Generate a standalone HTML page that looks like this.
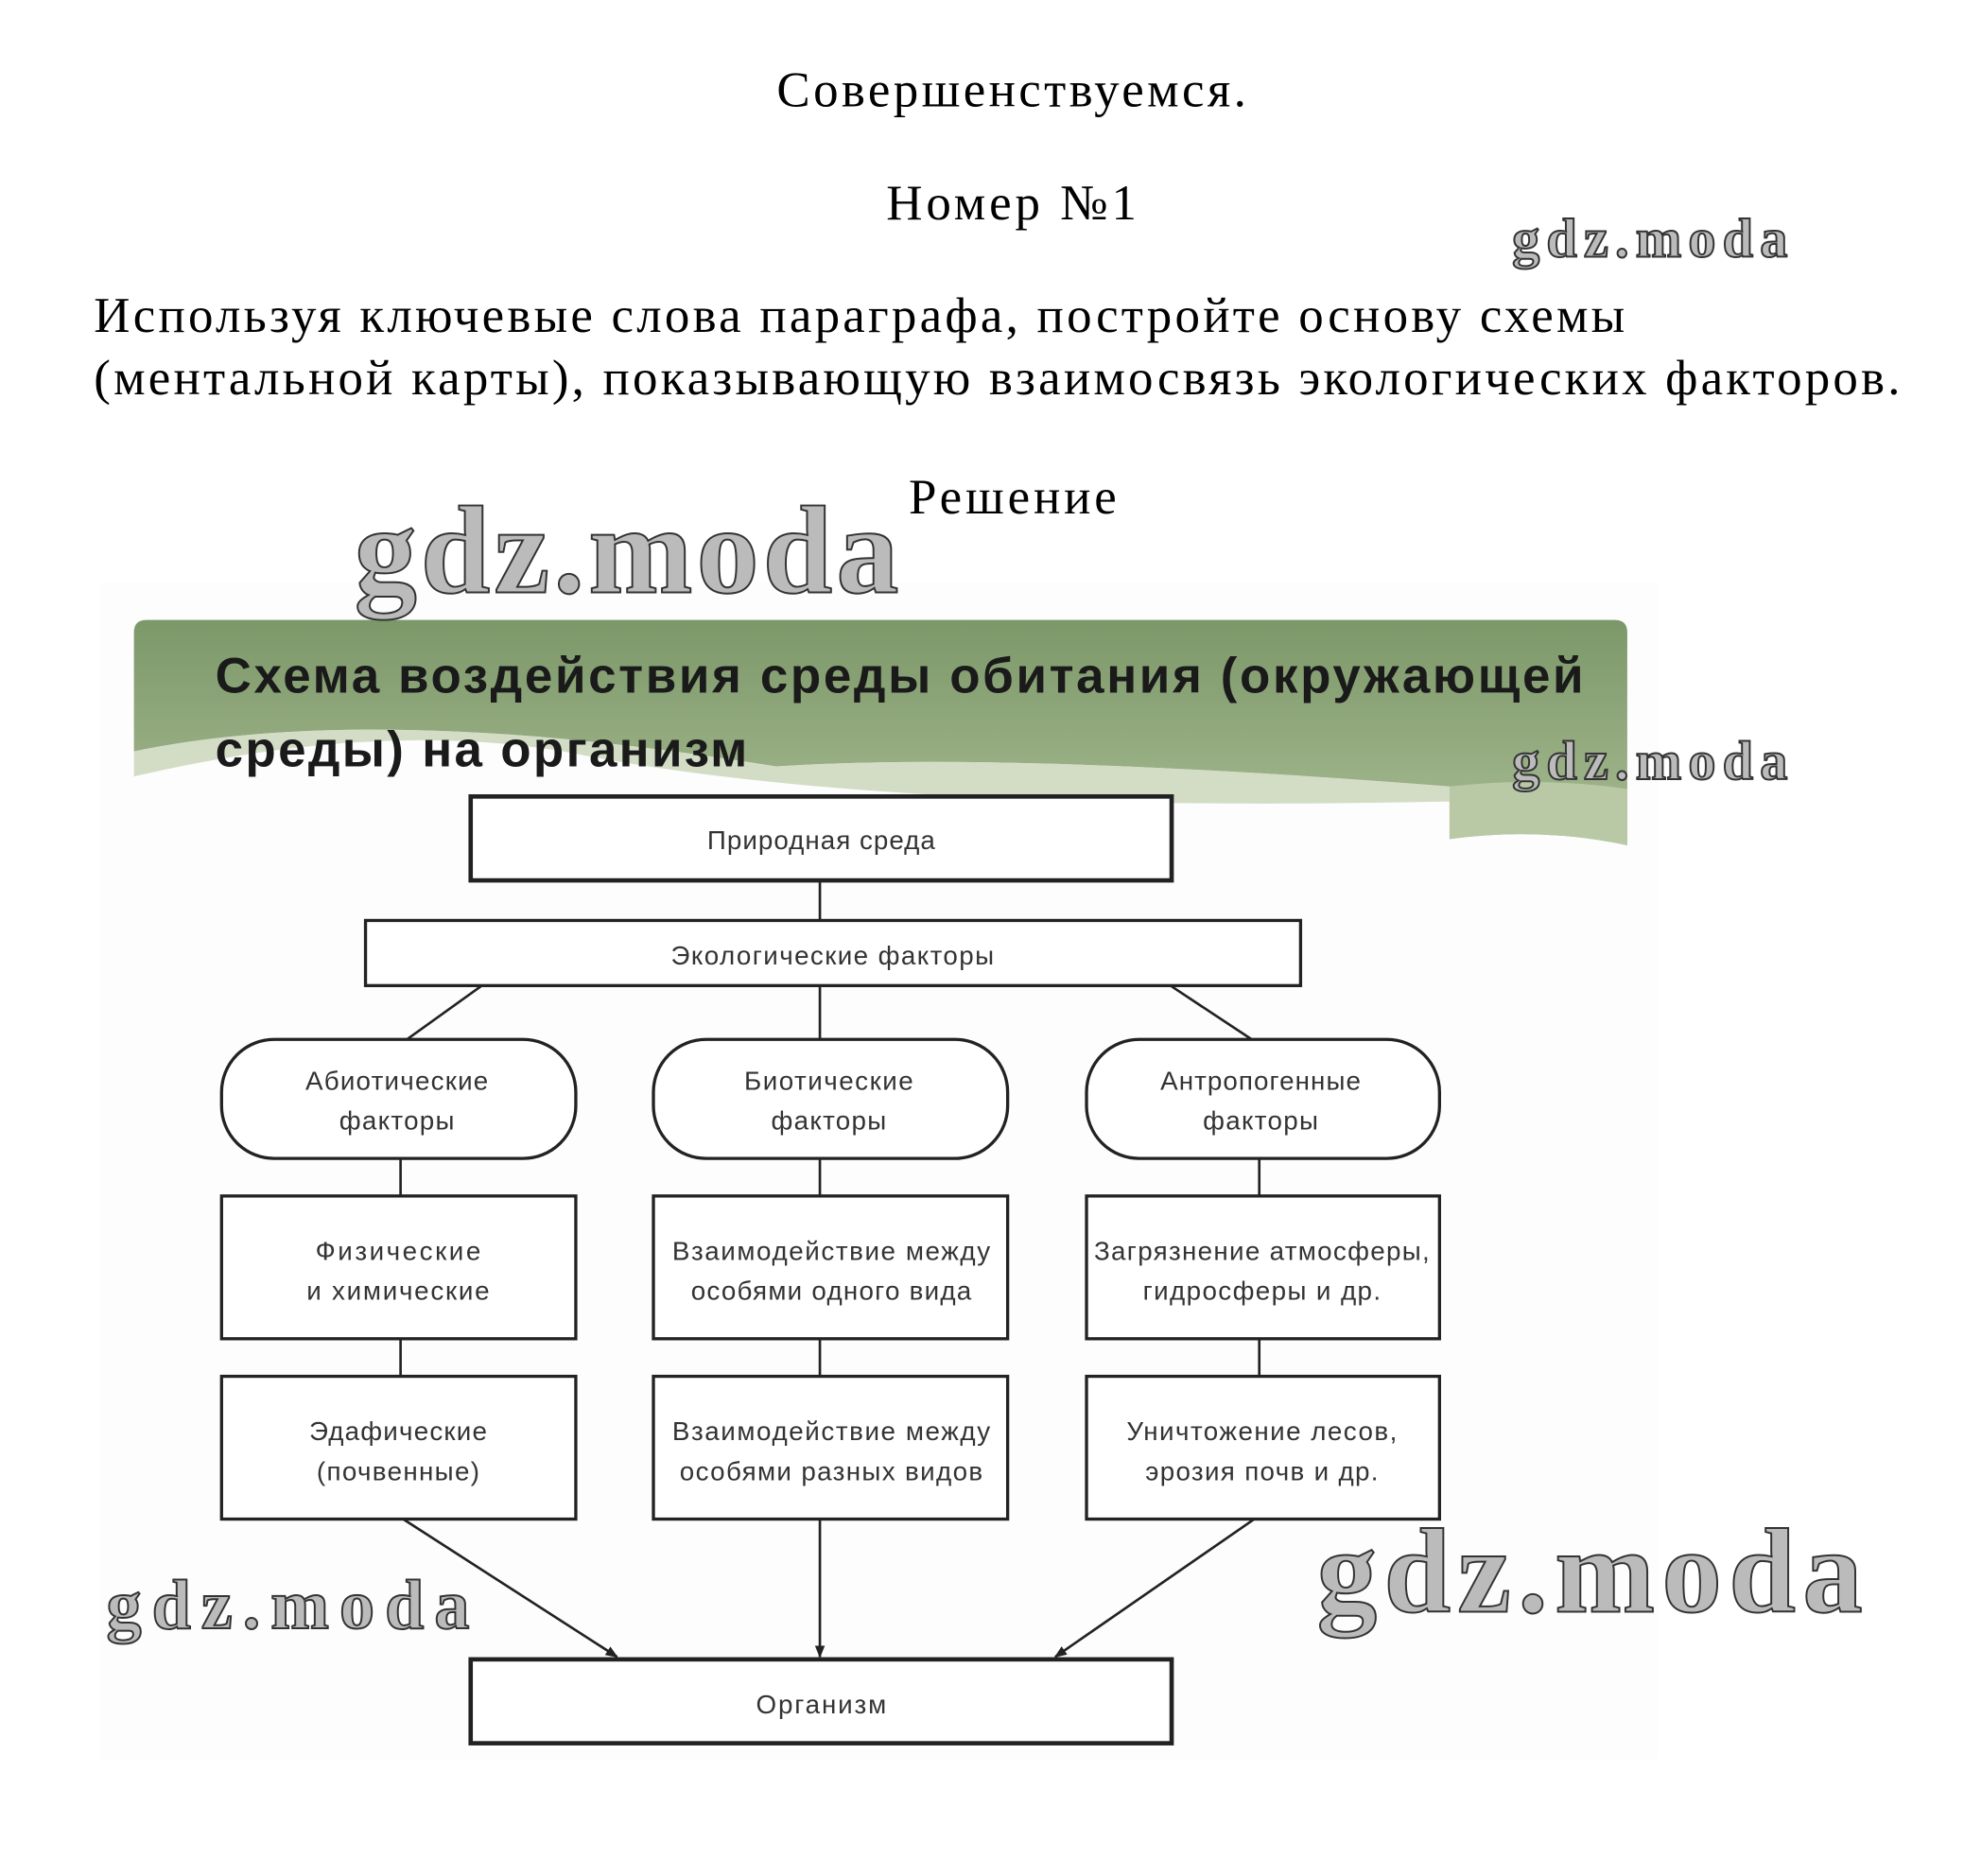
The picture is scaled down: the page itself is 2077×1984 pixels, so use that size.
<!DOCTYPE html>
<html><head><meta charset="utf-8"><style>
html,body{margin:0;padding:0;background:#fff;}
svg{display:block;}
.s{font-family:"Liberation Serif",serif;fill:#000;}
.d{font-family:"Liberation Sans",sans-serif;fill:#333;font-size:21px;}
.t{font-family:"Liberation Sans",sans-serif;font-weight:bold;fill:#1a1a1a;font-size:40px;}
.w{font-family:"Liberation Serif",serif;font-weight:bold;fill:#bbb;stroke:#333;stroke-width:1.5;}
.b{fill:#fff;stroke:#222;stroke-width:2.5;}
.l{stroke:#222;stroke-width:2;fill:none;}
</style></head><body>
<svg width="2077" height="1984" viewBox="0 0 1569 1498" preserveAspectRatio="none" xmlns="http://www.w3.org/2000/svg">
<defs>
<linearGradient id="g" x1="0" y1="0" x2="0" y2="1"><stop offset="0" stop-color="#7c9869"/><stop offset="1" stop-color="#a7ba92"/></linearGradient>
<marker id="a" markerWidth="10" markerHeight="10" refX="9" refY="5" orient="auto" markerUnits="userSpaceOnUse"><path d="M0,1 L10,5 L0,9 Z" fill="#222"/></marker>
</defs>
<rect x="80" y="465" width="1245" height="940" fill="#fdfdfd"/>
<text class="s" x="808" y="85" font-size="40" text-anchor="middle" textLength="375">Совершенствуемся.</text>
<text class="s" x="808" y="175" font-size="40" text-anchor="middle" textLength="200">Номер №1</text>
<text class="s" x="75" y="265" font-size="40" textLength="1223">Используя ключевые слова параграфа, постройте основу схемы</text>
<text class="s" x="75" y="315" font-size="40" textLength="1443">(ментальной карты), показывающую взаимосвязь экологических факторов.</text>
<text class="s" x="809" y="410" font-size="40" text-anchor="middle" textLength="166">Решение</text>

<path d="M107,505 Q107,495 117,495 L1290,495 Q1300,495 1300,505 L1300,675 Q1230,660 1158,670 L1158,628 Q800,600 620,612 Q300,560 107,600 Z" fill="url(#g)"/>
<path d="M107,600 Q300,560 620,612 Q800,600 1158,628 L1158,640 Q700,650 450,600 Q300,575 107,620 Z" fill="#c8d5b8" opacity="0.8"/>
<path d="M1158,628 Q1230,620 1300,630 L1300,675 Q1230,660 1158,670 Z" fill="#b9c9a6"/>
<text class="t" x="172" y="553" textLength="1093">Схема воздействия среды обитания (окружающей</text>
<text class="t" x="172" y="612" textLength="425">среды) на организм</text>

<line class="l" x1="655" y1="703" x2="655" y2="735"/>
<line class="l" x1="655" y1="787" x2="655" y2="830"/>
<line class="l" x1="385" y1="787" x2="325" y2="830"/>
<line class="l" x1="935" y1="787" x2="1000" y2="830"/>
<line class="l" x1="320" y1="925" x2="320" y2="1099"/>
<line class="l" x1="655" y1="925" x2="655" y2="1099"/>
<line class="l" x1="1006" y1="925" x2="1006" y2="1099"/>
<line class="l" x1="322" y1="1213" x2="493" y2="1323" marker-end="url(#a)"/>
<line class="l" x1="655" y1="1213" x2="655" y2="1323" marker-end="url(#a)"/>
<line class="l" x1="1002" y1="1213" x2="843" y2="1323" marker-end="url(#a)"/>

<rect x="376" y="636" width="560" height="67" fill="#fff" stroke="#222" stroke-width="3.5"/>
<text class="d" x="656" y="678" text-anchor="middle" textLength="182">Природная среда</text>
<rect class="b" x="292" y="735" width="747" height="52"/>
<text class="d" x="665" y="770" text-anchor="middle" textLength="258">Экологические факторы</text>

<rect class="b" x="177" y="830" width="283" height="95" rx="42"/>
<rect class="b" x="522" y="830" width="283" height="95" rx="42"/>
<rect class="b" x="868" y="830" width="282" height="95" rx="42"/>
<text class="d" x="317" y="870" text-anchor="middle" textLength="146">Абиотические</text>
<text class="d" x="317" y="902" text-anchor="middle" textLength="92">факторы</text>
<text class="d" x="662" y="870" text-anchor="middle" textLength="135">Биотические</text>
<text class="d" x="662" y="902" text-anchor="middle" textLength="92">факторы</text>
<text class="d" x="1007" y="870" text-anchor="middle" textLength="160">Антропогенные</text>
<text class="d" x="1007" y="902" text-anchor="middle" textLength="92">факторы</text>

<rect class="b" x="177" y="955" width="283" height="114"/>
<rect class="b" x="522" y="955" width="283" height="114"/>
<rect class="b" x="868" y="955" width="282" height="114"/>
<text class="d" x="318" y="1006" text-anchor="middle" textLength="132">Физические</text>
<text class="d" x="318" y="1038" text-anchor="middle" textLength="146">и химические</text>
<text class="d" x="664" y="1006" text-anchor="middle" textLength="254">Взаимодействие между</text>
<text class="d" x="664" y="1038" text-anchor="middle" textLength="224">особями одного вида</text>
<text class="d" x="1008" y="1006" text-anchor="middle" textLength="268">Загрязнение атмосферы,</text>
<text class="d" x="1008" y="1038" text-anchor="middle" textLength="190">гидросферы и др.</text>

<rect class="b" x="177" y="1099" width="283" height="114"/>
<rect class="b" x="522" y="1099" width="283" height="114"/>
<rect class="b" x="868" y="1099" width="282" height="114"/>
<text class="d" x="318" y="1150" text-anchor="middle" textLength="142">Эдафические</text>
<text class="d" x="318" y="1182" text-anchor="middle" textLength="130">(почвенные)</text>
<text class="d" x="664" y="1150" text-anchor="middle" textLength="254">Взаимодействие между</text>
<text class="d" x="664" y="1182" text-anchor="middle" textLength="242">особями разных видов</text>
<text class="d" x="1008" y="1150" text-anchor="middle" textLength="216">Уничтожение лесов,</text>
<text class="d" x="1008" y="1182" text-anchor="middle" textLength="186">эрозия почв и др.</text>

<rect x="376" y="1325" width="560" height="67" fill="#fff" stroke="#222" stroke-width="3.5"/>
<text class="d" x="656" y="1368" text-anchor="middle" textLength="104">Организм</text>

<text class="w" x="1208" y="205" font-size="44" textLength="220">gdz.moda</text>
<text class="w" x="283" y="473" font-size="100" textLength="435" stroke-width="2.5">gdz.moda</text>
<text class="w" x="1208" y="622" font-size="44" textLength="220">gdz.moda</text>
<text class="w" x="85" y="1300" font-size="56" textLength="290" stroke-width="2">gdz.moda</text>
<text class="w" x="1052" y="1287" font-size="96" textLength="436" stroke-width="2.5">gdz.moda</text>
</svg>
</body></html>
